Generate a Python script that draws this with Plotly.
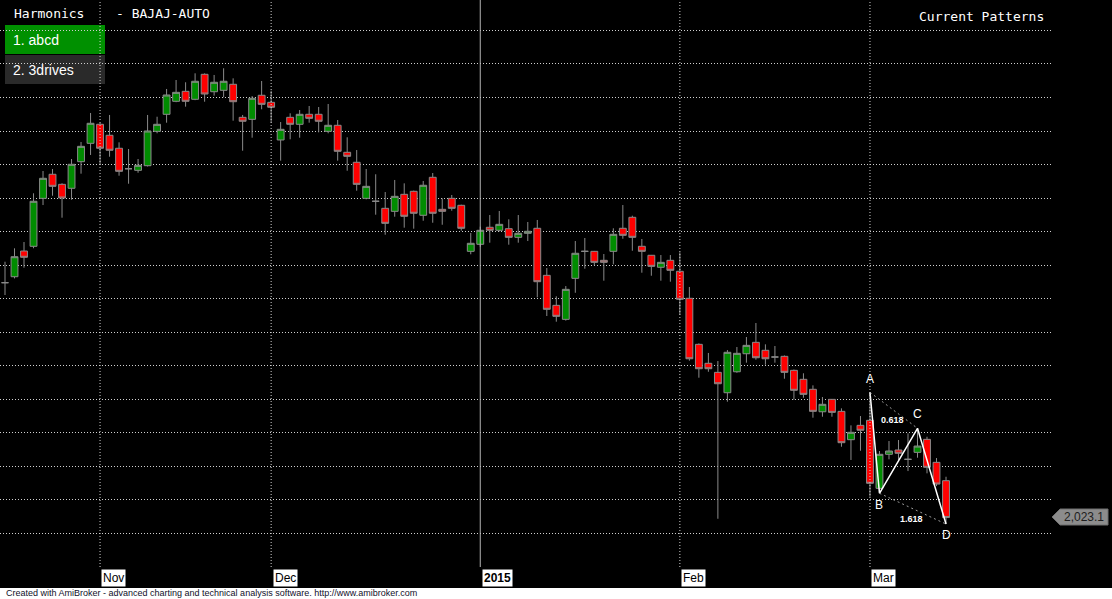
import plotly.graph_objects as go

W, H = 1112, 599

# ---- data ----
opens = [2373.6, 2382.5, 2420.9, 2427.9, 2499.5, 2535.4, 2520.4, 2514.5, 2554.2, 2581.6,
         2610.0, 2593.6, 2574.2, 2543.7, 2541.3, 2548.2, 2599.5, 2624.9, 2644.3, 2659.2,
         2647.3, 2684.6, 2658.6, 2660.7, 2669.7, 2620.4, 2617.4, 2653.3, 2642.8, 2586.6,
         2620.4, 2610.0, 2624.9, 2624.9, 2599.5, 2608.5, 2568.2, 2553.3, 2499.5, 2495.1,
         2484.6, 2480.1, 2505.5, 2510.0, 2474.2, 2530.9, 2483.1, 2499.5, 2489.1, 2420.4,
         2430.9, 2456.3, 2451.8, 2454.2, 2441.3, 2447.3, 2454.8, 2384.6, 2339.8, 2318.9,
         2380.1, 2420.4, 2420.4, 2407.0, 2420.4, 2454.8, 2471.2, 2427.9, 2414.5, 2396.6,
         2407.0, 2390.6, 2350.3, 2281.6, 2253.3, 2239.8, 2209.4, 2240.7, 2267.6, 2284.6,
         2272.7, 2262.7, 2263.7, 2242.8, 2229.4, 2214.5, 2181.0, 2199.5, 2181.6, 2139.3,
         2160.7, 2168.2, 2066.7, 2117.5, 2123.9, 2110.0, 2120.4, 2139.8, 2105.5, 2078.1]
highs = [2404.9, 2424.9, 2434.3, 2507.0, 2540.3, 2543.3, 2522.0, 2558.2, 2583.6, 2626.9,
         2612.0, 2623.9, 2583.1, 2573.1, 2558.2, 2623.9, 2621.3, 2662.7, 2676.1, 2672.7,
         2686.1, 2686.0, 2683.6, 2693.6, 2678.6, 2623.9, 2652.2, 2674.6, 2660.1, 2613.4,
         2626.4, 2631.3, 2637.3, 2635.8, 2640.3, 2616.4, 2590.6, 2571.6, 2543.3, 2535.4,
         2508.9, 2526.9, 2521.9, 2511.0, 2525.4, 2537.3, 2499.5, 2504.5, 2490.0, 2447.8,
         2457.2, 2474.6, 2480.6, 2468.2, 2474.6, 2464.2, 2467.2, 2395.5, 2353.3, 2368.6,
         2435.8, 2440.3, 2421.0, 2416.4, 2454.8, 2489.5, 2473.6, 2438.8, 2415.0, 2414.9,
         2414.9, 2418.9, 2367.2, 2283.0, 2268.7, 2256.7, 2273.1, 2277.6, 2292.5, 2313.4,
         2281.6, 2279.1, 2265.0, 2244.0, 2238.4, 2220.4, 2203.0, 2200.0, 2186.1, 2160.7,
         2174.6, 2210.0, 2122.4, 2137.3, 2138.8, 2148.8, 2156.3, 2143.7, 2111.9, 2084.0]
lows = [2355.2, 2380.0, 2396.0, 2425.0, 2489.5, 2503.4, 2470.6, 2497.5, 2536.3, 2564.2,
        2549.2, 2561.6, 2533.3, 2521.3, 2537.7, 2547.0, 2596.6, 2612.4, 2643.0, 2636.3,
        2646.0, 2643.7, 2652.7, 2650.3, 2615.4, 2570.6, 2590.0, 2632.4, 2612.4, 2555.7,
        2587.6, 2590.0, 2612.4, 2598.0, 2596.6, 2555.7, 2540.7, 2510.9, 2498.0, 2475.1,
        2445.2, 2472.1, 2455.7, 2454.2, 2466.1, 2463.1, 2460.1, 2481.0, 2451.2, 2416.0,
        2427.3, 2433.3, 2450.0, 2430.3, 2433.3, 2435.8, 2351.8, 2323.9, 2315.4, 2317.0,
        2358.6, 2394.5, 2399.5, 2376.6, 2401.0, 2439.2, 2421.3, 2388.5, 2384.0, 2376.6,
        2375.1, 2325.8, 2257.2, 2231.8, 2240.7, 2021.3, 2196.0, 2239.2, 2254.2, 2258.7,
        2251.2, 2254.2, 2230.3, 2199.0, 2201.9, 2172.1, 2173.6, 2173.6, 2128.8, 2109.0,
        2122.8, 2054.2, 2059.3, 2110.0, 2107.5, 2092.5, 2112.4, 2089.1, 2070.1, 2013.4]
closes = [2373.6, 2412.4, 2411.5, 2495.1, 2529.4, 2517.4, 2500.0, 2550.3, 2577.1, 2611.5,
          2574.2, 2571.2, 2539.8, 2543.7, 2548.8, 2600.0, 2610.0, 2653.7, 2657.7, 2644.3,
          2674.2, 2655.2, 2672.7, 2674.2, 2643.7, 2614.5, 2648.8, 2639.8, 2635.4, 2602.5,
          2610.0, 2624.9, 2618.9, 2614.5, 2608.5, 2569.7, 2562.2, 2520.4, 2517.4, 2495.1,
          2462.2, 2502.5, 2472.7, 2477.2, 2519.0, 2477.2, 2480.1, 2484.6, 2454.8, 2432.4,
          2451.8, 2451.8, 2460.7, 2441.3, 2447.3, 2450.3, 2375.1, 2333.9, 2323.4, 2363.7,
          2417.5, 2420.4, 2404.0, 2404.0, 2445.8, 2444.3, 2441.3, 2420.4, 2398.0, 2404.0,
          2392.1, 2348.8, 2260.1, 2245.2, 2245.2, 2222.8, 2269.7, 2268.2, 2280.1, 2261.6,
          2260.1, 2262.7, 2239.8, 2213.0, 2207.0, 2181.6, 2192.1, 2180.1, 2134.8, 2150.3,
          2153.3, 2074.2, 2117.5, 2122.4, 2119.0, 2110.0, 2129.8, 2098.1, 2073.1, 2023.1]
bars = list(range(len(opens)))

# month boundaries (bar index) and their labels
month_bars = [10, 28, 50, 71, 91]
month_labels = ["Nov", "Dec", "2015", "Feb", "Mar"]

# ABCD harmonic pattern points
pat_names = ["A", "B", "C", "D"]
pat_bars = [91, 92, 96, 99]
pat_prices = [2210.0, 2059.3, 2156.3, 2013.4]
pat_label_prices = [2230.0, 2041.8, 2177.6, 1997.0]
ratio_labels = ["0.618", "1.618"]
ratio_bars = [93.4, 95.4]
ratio_prices = [2168.7, 2020.9]

grid_levels = list(range(1950, 2751, 50))
last_close = closes[-1]


def px(x):
    return x / W


def py(y):
    return 1 - y / H


fig = go.Figure()

fig.add_trace(go.Candlestick(
    x=bars, open=opens, high=highs, low=lows, close=closes,
    increasing=dict(fillcolor="#008c00", line=dict(color="#8a8a8a", width=1)),
    decreasing=dict(fillcolor="#ff0000", line=dict(color="#8a8a8a", width=1)),
    whiskerwidth=0, showlegend=False, hoverinfo="x+y",
))

# pattern legs
fig.add_trace(go.Scatter(
    x=pat_bars, y=pat_prices, mode="lines",
    line=dict(color="white", width=1.5), showlegend=False, hoverinfo="skip",
))
fig.add_trace(go.Scatter(
    x=[pat_bars[0], pat_bars[2]], y=[pat_prices[0], pat_prices[2]], mode="lines",
    line=dict(color="#9a9a9a", width=1, dash="2px,3px"), showlegend=False, hoverinfo="skip",
))
fig.add_trace(go.Scatter(
    x=[pat_bars[1], pat_bars[3]], y=[pat_prices[1], pat_prices[3]], mode="lines",
    line=dict(color="#9a9a9a", width=1, dash="2px,3px"), showlegend=False, hoverinfo="skip",
))

shapes = []
annotations = []

# month separators
for b, lab in zip(month_bars, month_labels):
    if lab == "2015":
        shapes.append(dict(type="line", xref="x", yref="paper", x0=b, x1=b,
                           y0=py(567), y1=1, line=dict(color="#b4b4b4", width=1)))
    else:
        shapes.append(dict(type="line", xref="x", yref="paper", x0=b, x1=b,
                           y0=py(567), y1=1, line=dict(color="#d0d0d0", width=1, dash="1px,2px")))
    annotations.append(dict(
        x=b + 0.15, y=py(578), xref="x", yref="paper", xanchor="left", yanchor="middle",
        text=f"<b>{lab}</b>" if lab == "2015" else lab, showarrow=False,
        font=dict(family="Liberation Sans, Arial", size=12, color="black"),
        bgcolor="white", borderpad=1,
    ))

# pattern letters and ratios
for n, b, p in zip(pat_names, pat_bars, pat_label_prices):
    annotations.append(dict(x=b, y=p, xref="x", yref="y", text=n, showarrow=False,
                            font=dict(family="Liberation Sans, Arial", size=12, color="white")))
for t, b, p in zip(ratio_labels, ratio_bars, ratio_prices):
    annotations.append(dict(x=b, y=p, xref="x", yref="y", text=f"<b>{t}</b>", showarrow=False,
                            font=dict(family="Liberation Sans, Arial", size=9, color="white")))

# header texts
annotations += [
    dict(x=px(12), y=py(13), xref="paper", yref="paper", xanchor="left", yanchor="middle",
         text="Harmonics", showarrow=False,
         font=dict(family="DejaVu Sans Mono", size=13, color="white")),
    dict(x=px(114), y=py(13), xref="paper", yref="paper", xanchor="left", yanchor="middle",
         text="- BAJAJ-AUTO", showarrow=False,
         font=dict(family="DejaVu Sans Mono", size=13, color="white")),
    dict(x=px(1046), y=py(16), xref="paper", yref="paper", xanchor="right", yanchor="middle",
         text="Current Patterns", showarrow=False,
         font=dict(family="DejaVu Sans Mono", size=13, color="white")),
    dict(x=px(11), y=py(40), xref="paper", yref="paper", xanchor="left", yanchor="middle",
         text="1. abcd", showarrow=False,
         font=dict(family="Liberation Sans, Arial", size=14, color="white")),
    dict(x=px(11), y=py(70), xref="paper", yref="paper", xanchor="left", yanchor="middle",
         text="2. 3drives", showarrow=False,
         font=dict(family="Liberation Sans, Arial", size=14, color="white")),
    dict(x=px(1084), y=py(517), xref="paper", yref="paper", xanchor="center", yanchor="middle",
         text=f"{last_close:,.1f}", showarrow=False,
         font=dict(family="Liberation Sans, Arial", size=12, color="#1e1e1e")),
    dict(x=px(4), y=py(593), xref="paper", yref="paper", xanchor="left", yanchor="middle",
         text="Created with AmiBroker - advanced charting and technical analysis software. http://www.amibroker.com",
         showarrow=False, font=dict(family="Liberation Sans, Arial", size=9, color="#10102a")),
]

# legend boxes, price tag, footer strip
shapes += [
    dict(type="rect", xref="paper", yref="paper", x0=px(5), x1=px(105), y0=py(54), y1=py(25),
         fillcolor="#009000", line=dict(width=0), layer="below"),
    dict(type="rect", xref="paper", yref="paper", x0=px(5), x1=px(105), y0=py(84), y1=py(55),
         fillcolor="#2a2a2a", line=dict(width=0), layer="below"),
    dict(type="path", xref="paper", yref="paper",
         path=(f"M {px(1052)},{py(517)} L {px(1060)},{py(509)} L {px(1108)},{py(509)} "
               f"L {px(1108)},{py(525)} L {px(1060)},{py(525)} Z"),
         fillcolor="#8c8c8c", line=dict(color="#6e6e6e", width=1)),
    dict(type="rect", xref="paper", yref="paper", x0=0, x1=1, y0=0, y1=py(588),
         fillcolor="white", line=dict(width=0)),
]

fig.update_layout(
    width=W, height=H, autosize=False,
    margin=dict(l=0, r=0, t=0, b=0),
    paper_bgcolor="black", plot_bgcolor="black",
    xaxis=dict(domain=[0, px(1052)], range=[-0.526, 110.15], showgrid=False,
               zeroline=False, showticklabels=False, rangeslider=dict(visible=False),
               fixedrange=True),
    yaxis=dict(domain=[py(567), 1], range=[1949.3, 2795.5], tickvals=grid_levels,
               showticklabels=False, showgrid=True, gridcolor="#d0d0d0", griddash="1px,2px",
               gridwidth=1, zeroline=False, fixedrange=True),
    shapes=shapes, annotations=annotations,
    boxgap=0.28, boxgroupgap=0,
)

# drop the page's default 8px body margin so the chart fills the window
fig.write_html("out.html", config={"displayModeBar": False},
               post_script="document.body.style.margin='0';")
